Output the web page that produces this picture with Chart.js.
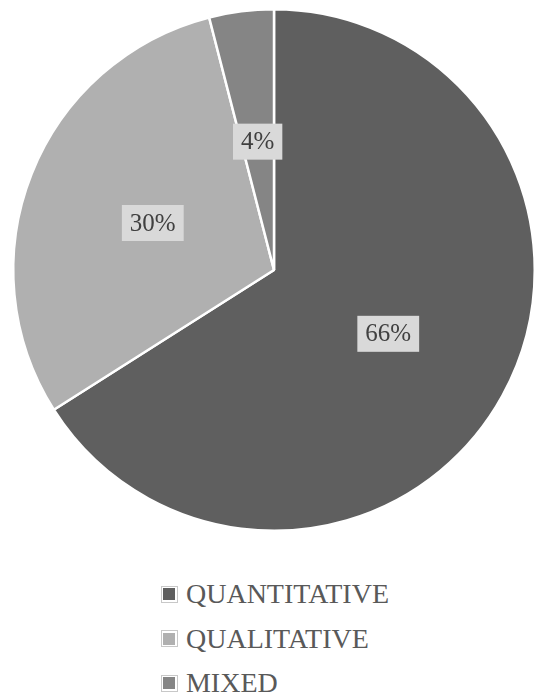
<!DOCTYPE html>
<html>
<head>
<meta charset="utf-8">
<script src="https://cdn.jsdelivr.net/npm/chart.js@4"></script>
<style>
  html, body { margin:0; padding:0; background:#fff; }
  #wrap { position:relative; width:536px; height:695px; overflow:hidden; }
  #pieBox { position:absolute; left:0; top:0; width:536px; height:540px; }
  #legend { position:absolute; left:0; top:572px; width:536px; text-align:center; }
  #legend ul { display:inline-block; list-style:none; margin:0; padding:0 0 0 14px; text-align:left; }
  #legend li { height:44.5px; display:flex; align-items:center; font-family:"Liberation Serif","Times New Roman",serif; font-size:28px; color:#595959; line-height:1; }
  #legend .sw { width:17px; height:17px; border:1px solid #c8c8c8; background:#fff; display:inline-flex; align-items:center; justify-content:center; margin-right:8px; box-sizing:border-box; }
  #legend .sw i { display:block; width:12px; height:12px; }
</style>
</head>
<body>
<div id="wrap">
  <div id="pieBox"><canvas id="c"></canvas></div>
  <div id="legend"></div>
</div>
<script>
const categories = ["QUANTITATIVE", "QUALITATIVE", "MIXED"];
const shares = [66, 30, 4];
const pctLabels = ["66%", "30%", "4%"];
const sliceColors = ["#5f5f5f", "#b0b0b0", "#858585"];

const labelPlugin = {
  id: 'boxLabels',
  afterDatasetsDraw(chart) {
    const ctx = chart.ctx;
    const meta = chart.getDatasetMeta(0);
    ctx.save();
    ctx.font = '25px "Liberation Serif", "Times New Roman", serif';
    ctx.textAlign = 'center';
    ctx.textBaseline = 'middle';
    meta.data.forEach((arc, i) => {
      const p = arc.tooltipPosition();
      const txt = pctLabels[i];
      const w = ctx.measureText(txt).width + 16;
      const h = 36;
      ctx.fillStyle = '#d9d9d9';
      ctx.fillRect(p.x - w / 2, p.y - h / 2 + 1, w, h);
      ctx.fillStyle = '#404040';
      ctx.fillText(txt, p.x, p.y + 2);
    });
    ctx.restore();
  }
};

const chart = new Chart(document.getElementById('c'), {
  type: 'pie',
  data: {
    labels: categories,
    datasets: [{
      data: shares,
      backgroundColor: sliceColors,
      borderColor: '#ffffff',
      borderWidth: 2.5
    }]
  },
  options: {
    responsive: true,
    maintainAspectRatio: false,
    animation: false,
    layout: { padding: { left: 12, right: 0, top: 8, bottom: 8 } },
    plugins: {
      legend: { display: false },
      tooltip: { enabled: false }
    }
  },
  plugins: [labelPlugin]
});

// HTML legend built from the chart's own legend items
const ul = document.createElement('ul');
chart.options.plugins.legend.labels.generateLabels(chart).forEach(item => {
  const li = document.createElement('li');
  const sw = document.createElement('span');
  sw.className = 'sw';
  const inner = document.createElement('i');
  inner.style.background = item.fillStyle;
  sw.appendChild(inner);
  li.appendChild(sw);
  li.appendChild(document.createTextNode(item.text));
  ul.appendChild(li);
});
document.getElementById('legend').appendChild(ul);
</script>
</body>
</html>
